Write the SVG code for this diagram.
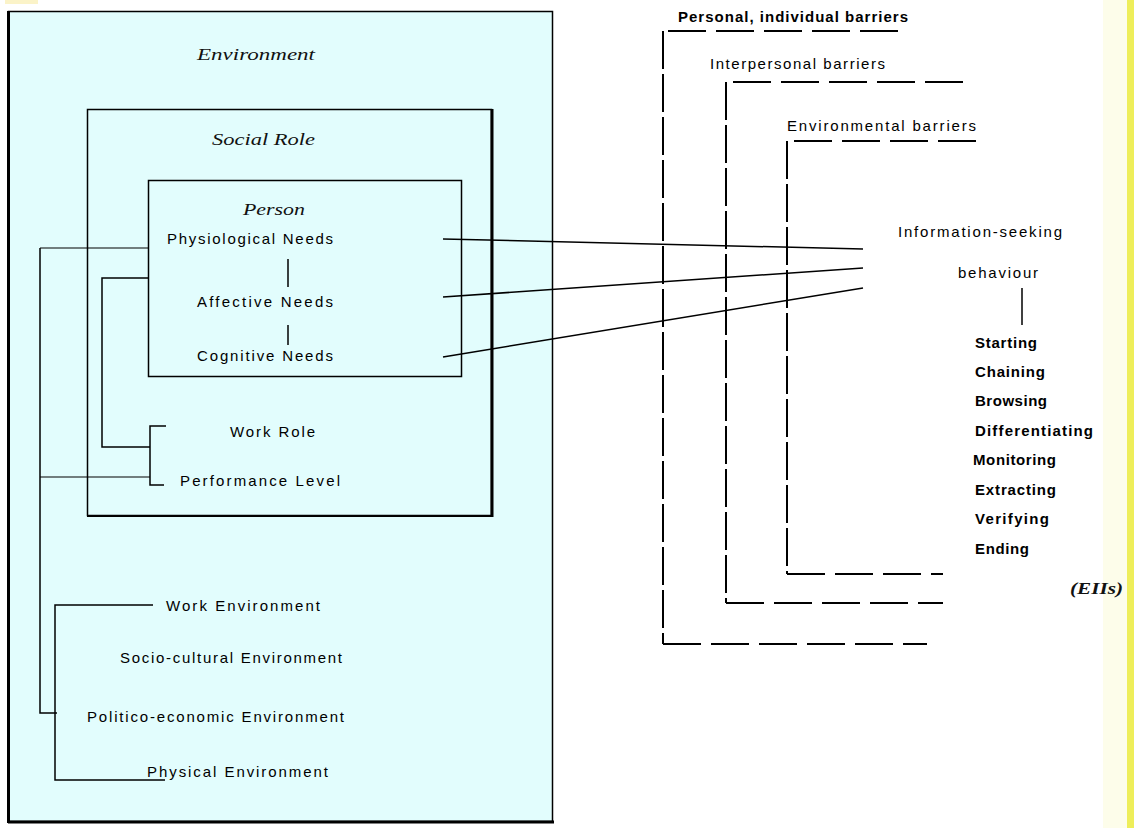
<svg xmlns="http://www.w3.org/2000/svg" width="1139" height="828" viewBox="0 0 1139 828">
<style>
.sans{font-family:"Liberation Sans",Arial,sans-serif;font-size:15px;fill:#000}
.bold{font-weight:bold}
.it{font-family:"Liberation Serif","Times New Roman",serif;font-style:italic;font-size:17px;fill:#111}
.ln{fill:none;stroke:#000;stroke-width:1.5}
.thin{fill:none;stroke:#000;stroke-width:1.2}
.dash{fill:none;stroke:#000;stroke-width:2;stroke-dasharray:38 10}
.vdash{fill:none;stroke:#000;stroke-width:2;stroke-dasharray:38 5}
</style>
<rect x="0" y="0" width="1139" height="828" fill="#ffffff"/>
<rect x="5" y="0" width="33" height="4" fill="#fbf3c8"/>
<rect x="1103" y="0" width="24" height="828" fill="#fdfdea"/>
<rect x="1127" y="0" width="7" height="828" fill="#eeee5a"/>

<g id="environment">
  <rect x="8.5" y="11.5" width="544" height="810" fill="#e2fdfd" stroke="#000" stroke-width="1.5"/>
  <line x1="8.5" y1="11" x2="8.5" y2="823" stroke="#000" stroke-width="3"/>
  <line x1="8" y1="822" x2="554" y2="822" stroke="#000" stroke-width="3"/>
  <text class="it" x="197" y="60" textLength="118" lengthAdjust="spacingAndGlyphs">Environment</text>
</g>

<g id="social-role">
  <rect x="87.5" y="109.5" width="404" height="406" fill="none" stroke="#000" stroke-width="1.5"/>
  <line x1="492" y1="109" x2="492" y2="517" stroke="#000" stroke-width="3"/>
  <line x1="87" y1="516" x2="493" y2="516" stroke="#000" stroke-width="2"/>
  <text class="it" x="212" y="145" textLength="103" lengthAdjust="spacingAndGlyphs">Social Role</text>
</g>

<g id="person">
  <rect x="148.5" y="180.5" width="313" height="196" fill="none" stroke="#000" stroke-width="1.5"/>
  <text class="it" x="243" y="215" textLength="62" lengthAdjust="spacingAndGlyphs">Person</text>
</g>

<g id="physiological-needs"><text class="sans" x="167" y="244" textLength="166" lengthAdjust="spacing">Physiological Needs</text></g>
<g id="affective-needs"><text class="sans" x="197" y="307" textLength="136" lengthAdjust="spacing">Affective Needs</text></g>
<g id="cognitive-needs"><text class="sans" x="197" y="361" textLength="136" lengthAdjust="spacing">Cognitive Needs</text></g>
<g id="work-role"><text class="sans" x="230" y="437" textLength="85" lengthAdjust="spacing">Work Role</text></g>
<g id="performance-level"><text class="sans" x="180" y="486" textLength="160" lengthAdjust="spacing">Performance Level</text></g>
<g id="work-environment"><text class="sans" x="166" y="611" textLength="154" lengthAdjust="spacing">Work Environment</text></g>
<g id="socio-cultural-environment"><text class="sans" x="120" y="663" textLength="222" lengthAdjust="spacing">Socio-cultural Environment</text></g>
<g id="politico-economic-environment"><text class="sans" x="87" y="722" textLength="257" lengthAdjust="spacing">Politico-economic Environment</text></g>
<g id="physical-environment"><text class="sans" x="147" y="777" textLength="181" lengthAdjust="spacing">Physical Environment</text></g>

<g id="personal-barriers">
  <line class="dash" x1="898" y1="31" x2="663" y2="31"/>
  <line class="vdash" x1="663" y1="31" x2="663" y2="644"/>
  <line class="dash" x1="663" y1="644" x2="927" y2="644"/>
  <text class="sans bold" x="678" y="22" textLength="230" lengthAdjust="spacing">Personal, individual barriers</text>
</g>
<g id="interpersonal-barriers">
  <line class="dash" x1="963" y1="82" x2="726" y2="82"/>
  <line class="vdash" x1="726" y1="82" x2="726" y2="603"/>
  <line class="dash" x1="726" y1="603" x2="943" y2="603"/>
  <text class="sans" x="710" y="69" textLength="175" lengthAdjust="spacing">Interpersonal barriers</text>
</g>
<g id="environmental-barriers">
  <line class="dash" x1="976" y1="141" x2="787" y2="141"/>
  <line class="vdash" x1="787" y1="141" x2="787" y2="574"/>
  <line class="dash" x1="787" y1="574" x2="943" y2="574"/>
  <text class="sans" x="787" y="131" textLength="189" lengthAdjust="spacing">Environmental barriers</text>
</g>

<g id="information-seeking-behaviour">
  <text class="sans" x="898" y="237" textLength="164" lengthAdjust="spacing">Information-seeking</text>
  <text class="sans" x="958" y="278" textLength="80" lengthAdjust="spacing">behaviour</text>
</g>
<g id="eis-list">
  <text class="sans bold" x="975" y="348" textLength="62" lengthAdjust="spacing">Starting</text>
  <text class="sans bold" x="975" y="377" textLength="70" lengthAdjust="spacing">Chaining</text>
  <text class="sans bold" x="975" y="406" textLength="72" lengthAdjust="spacing">Browsing</text>
  <text class="sans bold" x="975" y="436" textLength="118" lengthAdjust="spacing">Differentiating</text>
  <text class="sans bold" x="973" y="465" textLength="83" lengthAdjust="spacing">Monitoring</text>
  <text class="sans bold" x="975" y="495" textLength="81" lengthAdjust="spacing">Extracting</text>
  <text class="sans bold" x="975" y="524" textLength="74" lengthAdjust="spacing">Verifying</text>
  <text class="sans bold" x="975" y="554" textLength="54" lengthAdjust="spacing">Ending</text>
</g>
<g id="eis-label">
  <text class="it" x="1070" y="594" font-weight="bold" font-size="15" textLength="53" lengthAdjust="spacingAndGlyphs">(EIIs)</text>
</g>

<g id="connectors">
  <line class="ln" x1="288" y1="259" x2="288" y2="287"/>
  <line class="ln" x1="288" y1="325" x2="288" y2="345"/>
  <path class="thin" d="M148,248 H40"/>
  <path class="ln" d="M40,248 V713 H57"/>
  <path class="thin" d="M40,477 H150"/>
  <path class="ln" d="M148,278 H102 V447 H150"/>
  <path class="ln" d="M166,426 H150 V485 H164"/>
  <path class="ln" d="M153,605 H55 V780 H165"/>
  <line class="ln" x1="443" y1="239" x2="863" y2="249" stroke-width="2"/>
  <line class="ln" x1="443" y1="297" x2="863" y2="268" stroke-width="2"/>
  <line class="ln" x1="443" y1="357" x2="863" y2="288" stroke-width="2"/>
  <line class="ln" x1="1022" y1="288" x2="1022" y2="325" stroke-width="2"/>
</g>
</svg>
